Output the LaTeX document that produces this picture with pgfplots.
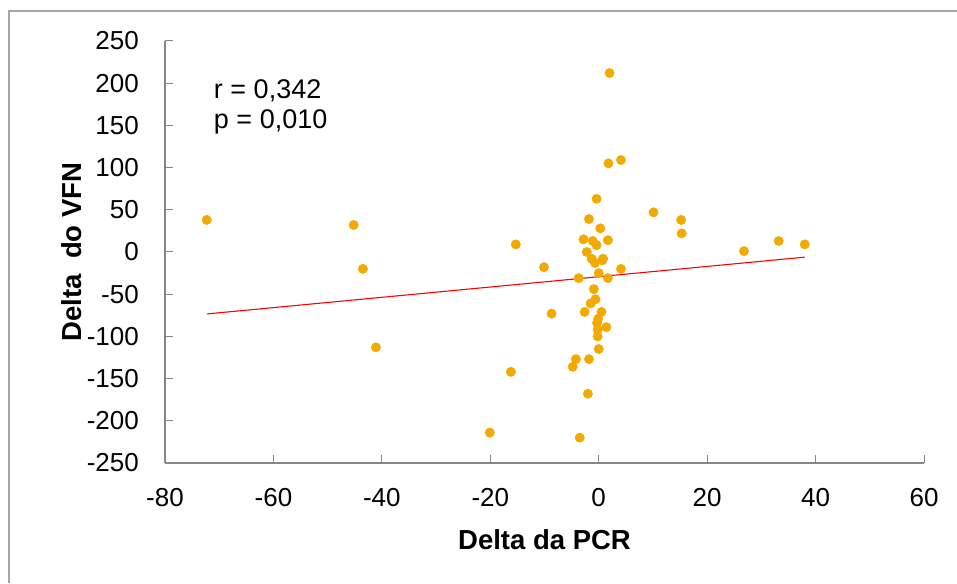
\documentclass[border=0pt]{standalone}
\usepackage{fontspec}
\setmainfont{Liberation Sans}
\usepackage{pgfplots}
\pgfplotsset{compat=1.18}
\definecolor{dotc}{HTML}{F2AA00}
\definecolor{axc}{HTML}{868686}
\definecolor{framec}{HTML}{A6A6A6}

\begin{document}
\begin{tikzpicture}
\useasboundingbox (0,0) rectangle (957pt,583pt);
% chart frame (top and left only)
\draw[framec,line width=2pt] (9pt,0) -- (9pt,572pt) -- (957pt,572pt);
\begin{axis}[
  scale only axis, width=759pt, height=422pt,
  at={(165pt,120pt)}, anchor=south west,
  xmin=-80, xmax=60, ymin=-250, ymax=250,
  xtick={-80,-60,...,60}, ytick={-250,-200,...,250},
  axis lines=left, axis line style={-,axc,line width=1.2pt},
  tick style={axc,line width=1pt}, tick align=inside, major tick length=8pt,
  font=\fontsize{26}{30}\selectfont,
  /pgf/number format/assume math mode=true,
  every tick label/.append style={inner sep=0pt},
  yticklabel style={xshift=-26pt},
  xticklabel style={yshift=-25pt},
  xlabel={\bfseries Delta da PCR},
  ylabel={\bfseries Delta~~do VFN},
  label style={font=\fontsize{27.5}{32}\selectfont},
  xlabel style={at={(axis description cs:0.5,-0.1825)},anchor=center,inner sep=0pt},
  ylabel style={at={(axis description cs:-0.1225,0.5)},anchor=center,inner sep=0pt},
  clip=false,
]
\addplot[only marks, mark=*, mark size=4.7pt, dotc, mark options={draw=dotc,fill=dotc}] coordinates {
  (-72.3,38) (-45.2,32) (-43.5,-20) (-41.1,-113) (-15.3,9) (-10.1,-18) (-8.7,-73)
  (-16.2,-142) (-20.1,-214) (-3.5,-220) (-2.6,-71) (0.5,-71) (1.4,-89) (-0.2,-92)
  (-0.2,-100) (0,-115) (-4.2,-127) (-1.8,-127) (-4.8,-136) (-2.0,-168) (-1.5,-61)
  (-0.6,-56) (-0.9,-44) (-0.4,63) (10.1,47) (15.2,38) (15.3,22) (-1.8,39) (0.3,28)
  (-2.8,15) (-1.1,13) (-0.4,8) (1.7,14) (-2.2,0) (-1.3,-8) (-0.7,-13) (0.6,-10)
  (0.8,-8) (4.1,-20) (0,-25) (-3.7,-31) (1.7,-31) (-0.1,-79) (-0.3,-84)
  (1.8,105) (4.1,109) (2.0,212) (26.8,1) (33.2,13) (38.0,9)
};
\addplot[red, line width=1.1pt] coordinates {(-72.3,-73.4) (38.0,-6.1)};
\node[anchor=west, align=left, inner sep=0pt, font=\fontsize{27}{30}\selectfont] at (axis cs:-71,172) {r = 0,342\\p = 0,010};
\end{axis}
\end{tikzpicture}
\end{document}
